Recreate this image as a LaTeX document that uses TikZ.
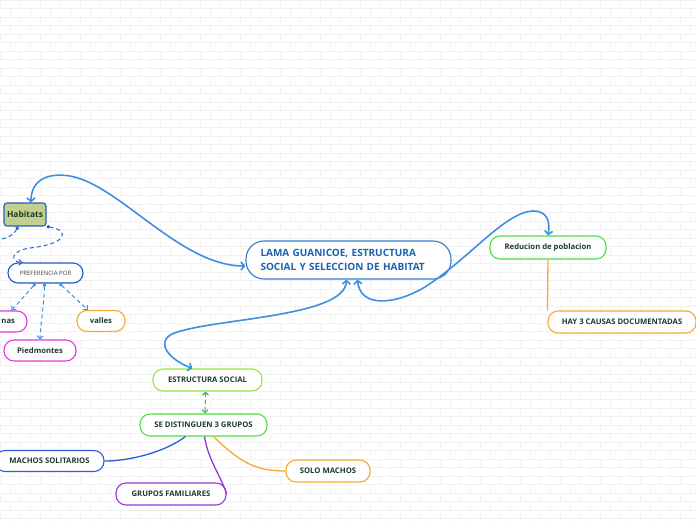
\documentclass[tikz,border=0pt]{standalone}
\usepackage{fontspec}
\setmainfont{Open Sans}
\usepackage[svgnames]{xcolor}
\usepackage{tikz}
\usetikzlibrary{arrows, arrows.meta}

\definecolor{linkblue}{HTML}{3D8FE3}
\definecolor{centralblue}{HTML}{2F7DCB}
\definecolor{centraltext}{HTML}{1B62AE}
\definecolor{darkblue}{HTML}{1F5CC2}
\definecolor{habfill}{HTML}{C3CF8C}
\definecolor{nodetext}{HTML}{1E3A30}
\definecolor{pinkish}{HTML}{E23AD8}
\definecolor{orangeish}{HTML}{F6A932}
\definecolor{greenish}{HTML}{4FE044}
\definecolor{limeish}{HTML}{9BE63D}
\definecolor{purpleish}{HTML}{9B33E3}
\definecolor{dashgreen}{HTML}{2DB54C}
\definecolor{solitblue}{HTML}{2A5ED9}

\tikzstyle{topic} = [rectangle, rounded corners=10pt, minimum height=21pt, draw, line width=1.1pt,
                     fill=white, text=nodetext, inner sep=0pt,
                     font=\fontsize{7.7}{9}\selectfont\bfseries]
\tikzstyle{link} = [line width=1.6pt, >={Straight Barb[length=3.5pt,width=8pt]}]
\tikzstyle{dashlink} = [line width=1pt, dash pattern=on 4pt off 3pt,
                        {Circle[length=3.5pt]}-{Straight Barb[length=3pt,width=6pt]}]
\tikzstyle{brick} = [black!5, line width=0.4pt]

\begin{document}
\begin{tikzpicture}[x=1pt, y=-1pt]
  \useasboundingbox (0,0) rectangle (696,520);
  \fill [white] (0,0) rectangle (696,520);
  % background bricks
  \foreach \r in {0,...,61} {
    \draw [brick] (0,{\r*8.5}) -- (696,{\r*8.5});
    \foreach \xx in {0,20,...,700}
      \draw [brick] ({\xx+10*mod(\r,2)},{\r*8.5}) -- ++(0,8.5);
  }

  \node (central) [topic, draw=centralblue, minimum width=205pt, minimum height=38pt,
        rounded corners=18pt, text=centraltext, text width=176pt, align=left,
        font=\fontsize{10}{14.5}\selectfont\bfseries] at (348.5,260)
        {LAMA GUANICOE, ESTRUCTURA\\SOCIAL Y SELECCION DE HABITAT};

  \node (habitats) [topic, draw=darkblue, fill=habfill, rounded corners=3pt,
        minimum width=42pt, minimum height=23pt, font=\fontsize{8.4}{9}\selectfont\bfseries]
        at (25,214.5) {Habitats};
  \node (pref) [topic, draw=darkblue, minimum width=75pt, minimum height=20pt,
        text=black!75, font=\fontsize{6}{7}\selectfont] at (45.5,273) {PREFERENCIA POR};
  \node (nas) [topic, draw=pinkish, minimum width=57pt, text width=33pt, align=right,
        inner xsep=12pt] at (-1.5,321.5) {nas};
  \node (valles) [topic, draw=orangeish, minimum width=48pt] at (101,321) {valles};
  \node (piedmontes) [topic, draw=pinkish, minimum width=72pt] at (40,350.5) {Piedmontes};

  \node (reduc) [topic, draw=greenish, minimum width=116pt, minimum height=23pt] at (548,247.5)
        {Reducion de poblacion};
  \node (hay) [topic, draw=orangeish, minimum width=148pt, minimum height=22pt] at (622,322)
        {HAY 3 CAUSAS DOCUMENTADAS};

  \node (estr) [topic, draw=limeish, minimum width=109pt, minimum height=22pt] at (207.5,380)
        {ESTRUCTURA SOCIAL};
  \node (sedist) [topic, draw=greenish, minimum width=127pt, minimum height=22pt] at (203.5,425)
        {SE DISTINGUEN 3 GRUPOS};
  \node (solo) [topic, draw=orangeish, minimum width=84pt, minimum height=22pt] at (328,471)
        {SOLO MACHOS};
  \node (grupos) [topic, draw=purpleish, minimum width=110pt, minimum height=22pt] at (171,494)
        {GRUPOS FAMILIARES};
  \node (machos) [topic, draw=solitblue, minimum width=109pt, minimum height=21pt] at (49.5,461)
        {MACHOS SOLITARIOS};
  \coordinate (offleft) at (-6,241);

  % main links
  \draw [link, <->, linkblue] ([yshift=-6pt]central.west) .. controls (180,266) and (120,185) .. (70,176)
        .. controls (45,172) and (31,182) .. ([xshift=6pt]habitats.north);
  \draw [link, <->, linkblue] ([xshift=-2pt]central.south) .. controls (345,318) and (210,318) .. (172,334)
        .. controls (155,343) and (170,360) .. ([xshift=-15pt]estr.north);
  \draw [link, <->, linkblue] ([xshift=9pt]central.south) .. controls (360,308) and (395,305) .. (425,287)
        .. controls (470,258) and (505,212) .. (533,211) .. controls (548,211) and (550,222) .. (reduc.north);

  % habitat links
  \draw [dashlink, darkblue!80!linkblue] (habitats.south east) .. controls (70,230) and (68,244) .. (30,248)
        .. controls (10,251) and (10,262) .. ([xshift=-23pt]pref.north);
  \draw [dashlink, -, {Circle[length=3.5pt]}-, darkblue!80!linkblue] ([xshift=-7pt]habitats.south)
        .. controls (14,235) and (8,238) .. (offleft);
  \draw [dashlink, linkblue] ([xshift=-10pt]pref.south) -- ([xshift=13pt]nas.north);
  \draw [dashlink, linkblue] ([xshift=-1pt]pref.south) .. controls (44,305) and (41,320) .. (piedmontes.north);
  \draw [dashlink, linkblue] ([xshift=14pt]pref.south) -- ([xshift=-13pt]valles.north);

  % other links
  \draw [line width=1.3pt, orangeish] (reduc.south) -- (hay.north west);
  \draw [dashlink, {Straight Barb[length=3pt,width=6pt]}-{Straight Barb[length=3pt,width=6pt]}, dashgreen]
        ([xshift=-2pt]estr.south) -- ([xshift=1.5pt]sedist.north);
  \draw [line width=1.3pt, solitblue] ([xshift=-18pt]sedist.south) .. controls (165,452) and (130,461) .. (machos.east);
  \draw [line width=1.3pt, purpleish] ([xshift=1pt]sedist.south) .. controls (208,460) and (222,478) .. (grupos.east);
  \draw [line width=1.3pt, orangeish] ([xshift=10pt]sedist.south) .. controls (240,462) and (255,471) .. (solo.west);
\end{tikzpicture}
\end{document}
